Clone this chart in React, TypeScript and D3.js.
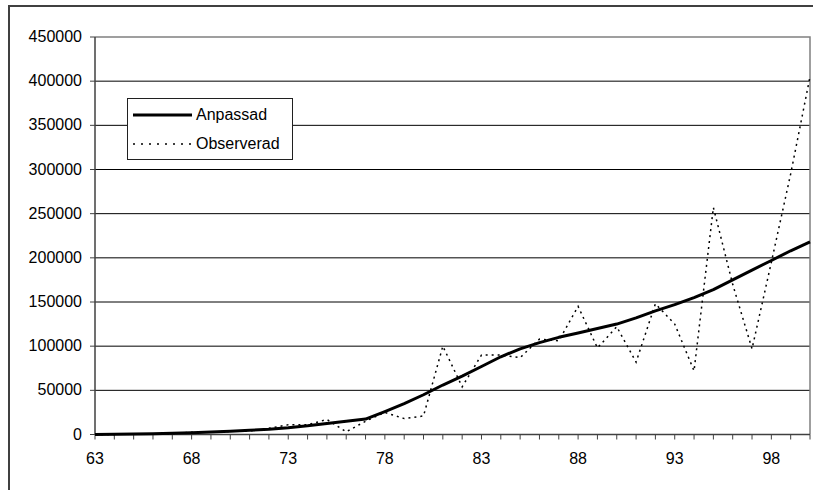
import React, { useEffect, useRef } from 'react';
import * as d3 from 'd3';

// years 63..100 (category axis)
const years = [63, 64, 65, 66, 67, 68, 69, 70, 71, 72, 73, 74, 75, 76, 77, 78, 79, 80, 81, 82,
  83, 84, 85, 86, 87, 88, 89, 90, 91, 92, 93, 94, 95, 96, 97, 98, 99, 100];

const anpassad = [0, 200, 500, 900, 1400, 2000, 2800, 3700, 4700, 5900, 7600, 9800, 12500, 15000,
  17500, 26000, 35000, 45000, 56000, 66000, 77000, 88000, 97000, 104000, 110000, 115000, 120000,
  125000, 132000, 140000, 147000, 155000, 164000, 175000, 186000, 197000, 208000, 218000];

const observerad = [0, 0, 1000, 500, 1000, 2500, 3000, 3500, 4000, 7000, 11000, 11000, 17000, 3000,
  15000, 25000, 18000, 21000, 100000, 54000, 90000, 90000, 87000, 108000, 106000, 145000, 98000,
  122000, 82000, 148000, 125000, 72000, 257000, 170000, 97000, 195000, 295000, 405000];

const yTicks = [0, 50000, 100000, 150000, 200000, 250000, 300000, 350000, 400000, 450000];
const xLabels = [63, 68, 73, 78, 83, 88, 93, 98];

const seriesNames = ['Anpassad', 'Observerad'];

const App = () => {
  const ref = useRef<SVGSVGElement>(null);

  useEffect(() => {
    const width = 821;
    const height = 490;
    const left = 95, right = 810, top = 37, bottom = 434.5;
    const font = 'Arial, "Liberation Sans", sans-serif';

    const svg = d3.select(ref.current);
    svg.selectAll('*').remove();
    svg.attr('width', width).attr('height', height);

    svg.append('rect').attr('width', width).attr('height', height).attr('fill', 'white');

    // outer chart frame (only left and top are in view)
    svg.append('path')
      .attr('d', 'M9,' + height + 'V6H813')
      .attr('fill', 'none')
      .attr('stroke', '#404040')
      .attr('stroke-width', 2);

    const x = d3.scaleLinear().domain([years[0], years[years.length - 1]]).range([left, right]);
    const y = d3.scaleLinear().domain([0, 450000]).range([bottom, top]);

    // gridlines
    svg.append('g')
      .selectAll('line')
      .data(yTicks.filter(d => d > 0 && d < 450000))
      .enter()
      .append('line')
        .attr('x1', left).attr('x2', right)
        .attr('y1', d => y(d)).attr('y2', d => y(d))
        .attr('stroke', 'black')
        .attr('stroke-width', 1);

    // plot border top / right
    svg.append('path')
      .attr('d', 'M' + left + ',' + top + 'H' + right + 'V' + bottom)
      .attr('fill', 'none')
      .attr('stroke', '#808080')
      .attr('stroke-width', 1.5);

    // y axis
    const yAxis = svg.append('g');
    yAxis.append('line')
      .attr('x1', left).attr('x2', left).attr('y1', top).attr('y2', bottom)
      .attr('stroke', '#404040').attr('stroke-width', 1.5);
    yAxis.selectAll('.tick')
      .data(yTicks)
      .enter()
      .append('line')
        .attr('x1', left - 5).attr('x2', left)
        .attr('y1', d => y(d)).attr('y2', d => y(d))
        .attr('stroke', '#404040');
    yAxis.selectAll('text')
      .data(yTicks)
      .enter()
      .append('text')
        .attr('x', 82)
        .attr('y', d => y(d))
        .attr('dy', '0.32em')
        .attr('text-anchor', 'end')
        .style('font-family', font)
        .style('font-size', '16px')
        .text(d => String(d));

    // x axis
    const xAxis = svg.append('g');
    xAxis.append('line')
      .attr('x1', left).attr('x2', right).attr('y1', bottom).attr('y2', bottom)
      .attr('stroke', '#404040').attr('stroke-width', 1.5);
    xAxis.selectAll('.tick')
      .data(years)
      .enter()
      .append('line')
        .attr('x1', d => x(d)).attr('x2', d => x(d))
        .attr('y1', bottom).attr('y2', bottom + 5)
        .attr('stroke', '#404040');
    xAxis.selectAll('text')
      .data(xLabels)
      .enter()
      .append('text')
        .attr('x', d => x(d))
        .attr('y', 464)
        .attr('text-anchor', 'middle')
        .style('font-family', font)
        .style('font-size', '16px')
        .text(d => String(d));

    const line = d3.line<number>()
      .x((d, i) => x(years[i]))
      .y(d => y(d));

    svg.append('path')
      .attr('d', line(observerad))
      .attr('fill', 'none')
      .attr('stroke', 'black')
      .attr('stroke-width', 1.5)
      .attr('stroke-dasharray', '2,4');

    svg.append('path')
      .attr('d', line(anpassad))
      .attr('fill', 'none')
      .attr('stroke', 'black')
      .attr('stroke-width', 3)
      .attr('stroke-linejoin', 'round');

    // legend
    const legend = svg.append('g');
    legend.append('rect')
      .attr('x', 127.5).attr('y', 98.5).attr('width', 165).attr('height', 61)
      .attr('fill', 'white')
      .attr('stroke', '#202020');
    seriesNames.forEach((name, i) => {
      const ly = 115 + i * 29;
      legend.append('line')
        .attr('x1', 133).attr('x2', 192).attr('y1', ly).attr('y2', ly)
        .attr('stroke', 'black')
        .attr('stroke-width', i === 0 ? 3 : 1.5)
        .attr('stroke-dasharray', i === 0 ? null : '2,6');
      legend.append('text')
        .attr('x', 196)
        .attr('y', ly - 1)
        .attr('dy', '0.35em')
        .style('font-family', font)
        .style('font-size', '16px')
        .text(name);
    });
  }, []);

  return (
    <div style={{ position: 'absolute', left: 0, top: 0 }}>
      <svg ref={ref}></svg>
    </div>
  );
};

export default App;
